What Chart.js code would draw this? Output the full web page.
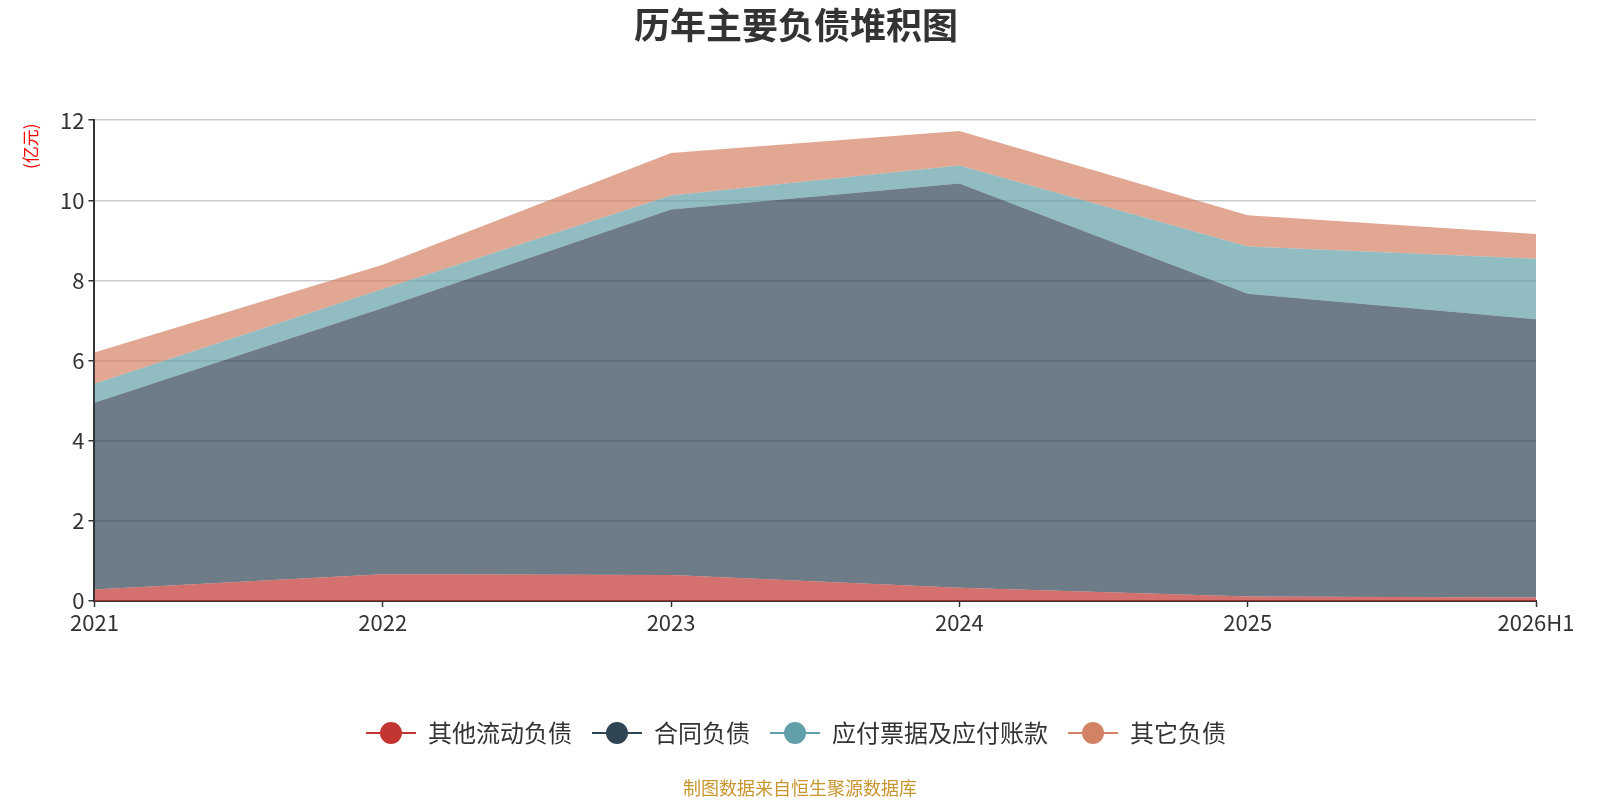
<!DOCTYPE html>
<html lang="zh">
<head>
<meta charset="UTF-8">
<script src="https://cdn.jsdelivr.net/npm/chart.js"></script>
<title>历年主要负债堆积图</title>
<style>
  html, body { margin: 0; padding: 0; background: #fff; }
  #wrap { position: relative; width: 1600px; height: 800px; }
  #source { position: absolute; left: 0; width: 1600px; top: 774px; text-align: center;
            font: 18px "Noto Sans CJK SC", sans-serif; color: #c8962e; }
</style>
</head>
<body>
<div id="wrap">
  <canvas id="chart" width="1600" height="800"></canvas>
  <div id="source">制图数据来自恒生聚源数据库</div>
</div>
<script>
// 数据 (亿元)
const years = ['2021', '2022', '2023', '2024', '2025', '2026H1'];
const otherCurrent = [0.29, 0.67, 0.65, 0.33, 0.11, 0.09];   // 其他流动负债
const contract = [4.66, 6.64, 9.12, 10.09, 7.56, 6.94];      // 合同负债
const payables = [0.47, 0.48, 0.35, 0.45, 1.18, 1.51];       // 应付票据及应付账款
const otherDebt = [0.78, 0.60, 1.06, 0.86, 0.78, 0.62];      // 其它负债
const yTicks = [0, 2, 4, 6, 8, 10, 12];

const FONT = '"Noto Sans CJK SC", "Noto Sans", sans-serif';

// legend symbol: line with a circle on it
function legendIcon(color) {
  const c = document.createElement('canvas');
  c.width = 50; c.height = 24;
  const g = c.getContext('2d');
  g.strokeStyle = color;
  g.lineWidth = 2;
  g.beginPath(); g.moveTo(0, 12); g.lineTo(50, 12); g.stroke();
  g.fillStyle = color;
  g.beginPath(); g.arc(25, 12, 11, 0, Math.PI * 2); g.fill();
  return c;
}

function series(label, data, color, fill) {
  return {
    label: label,
    data: data,
    fill: fill,
    backgroundColor: color + 'b3',
    borderColor: color,
    borderWidth: 0,
    pointRadius: 0,
    tension: 0,
    pointStyle: legendIcon(color)
  };
}

// y axis unit drawn at the top of the axis
const unitLabel = {
  id: 'unitLabel',
  afterDraw(chart) {
    const ctx = chart.ctx;
    ctx.save();
    ctx.translate(31, chart.chartArea.top + 26);
    ctx.rotate(-Math.PI / 2);
    ctx.fillStyle = '#ff0000';
    ctx.font = '17px ' + FONT;
    ctx.textAlign = 'center';
    ctx.textBaseline = 'middle';
    ctx.fillText('(亿元)', 0, 0);
    ctx.restore();
  }
};

new Chart(document.getElementById('chart'), {
  type: 'line',
  data: {
    labels: years,
    datasets: [
      series('其他流动负债', otherCurrent, '#c23531', 'origin'),
      series('合同负债', contract, '#2f4554', '-1'),
      series('应付票据及应付账款', payables, '#61a0a8', '-1'),
      series('其它负债', otherDebt, '#d48265', '-1')
    ]
  },
  options: {
    responsive: false,
    animation: false,
    layout: { padding: { left: 56, right: 64, top: 0, bottom: 45 } },
    plugins: {
      title: {
        display: true,
        text: '历年主要负债堆积图',
        color: '#333',
        font: { family: FONT, size: 36, weight: 'bold' },
        padding: { top: 4, bottom: 73 }
      },
      legend: {
        position: 'bottom',
        labels: {
          usePointStyle: true,
          pointStyleWidth: 50,
          color: '#333',
          font: { family: FONT, size: 24 },
          padding: 20
        }
      },
      tooltip: { enabled: false }
    },
    scales: {
      x: {
        offset: false,
        grid: { display: true, drawOnChartArea: false, tickLength: 6, tickColor: '#333', tickWidth: 1.5 },
        border: { color: '#333', width: 2 },
        ticks: { color: '#333', font: { family: FONT, size: 22 }, maxRotation: 0, padding: 2 },
        afterFit(scale) { scale.height = 100; }
      },
      y: {
        stacked: true,
        min: 0,
        max: 12,
        afterBuildTicks(scale) { scale.ticks = yTicks.map(v => ({ value: v })); },
        grid: { color: '#cccccc', lineWidth: 1.5, tickLength: 6, tickColor: '#333' },
        border: { color: '#333', width: 2 },
        ticks: { color: '#333', font: { family: FONT, size: 22 }, padding: 4 }
      }
    }
  },
  plugins: [unitLabel]
});
</script>
</body>
</html>
